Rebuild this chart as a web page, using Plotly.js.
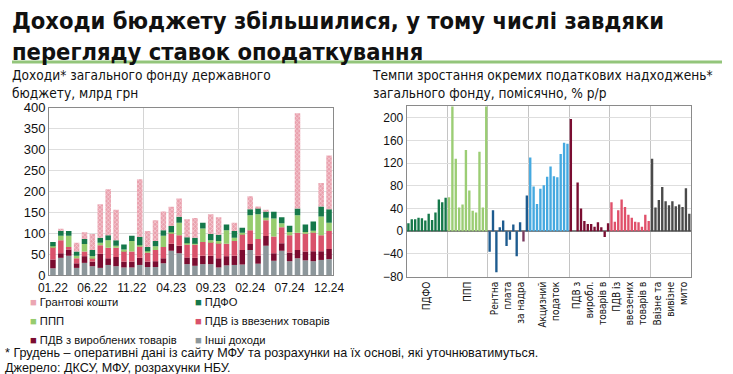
<!DOCTYPE html>
<html><head><meta charset="utf-8">
<script src="https://cdn.plot.ly/plotly-3.0.1.min.js"></script>
<style>html,body{margin:0;padding:0;background:#fff}#chart{width:733px;height:374px}</style>
</head><body><div id="chart"></div>
<script>
// ---------- Left chart: revenues of the general fund, UAH bn ----------
const months = ['01.22','02.22','03.22','04.22','05.22','06.22','07.22','08.22','09.22','10.22','11.22','12.22',
                '01.23','02.23','03.23','04.23','05.23','06.23','07.23','08.23','09.23','10.23','11.23','12.23',
                '01.24','02.24','03.24','04.24','05.24','06.24','07.24','08.24','09.24','10.24','11.24','12.24'];
const monthTicks = ['01.22','06.22','11.22','04.23','09.23','02.24','07.24','12.24'];
const otherIncome = [16,41,46,17,29,21,17,24,21,18,18,24,19,19,28,58,52,26,22,26,26,18,23,24,25,60,27,70,34,58,33,40,35,33,36,38];
const vatDomestic = [21,11,15,11,16,11,34,16,22,14,14,17,13,14,12,17,18,16,19,20,20,22,22,22,35,14,19,23,18,18,21,20,21,24,21,24];
const vatImported = [30,31,6,12,11,9,20,25,22,26,24,28,22,27,27,26,25,31,32,33,33,37,30,35,38,33,40,38,40,38,41,41,43,45,38,43];
const cit         = [2,11,27,6,18,4,6,18,5,3,25,2,3,9,27,1,30,3,2,32,4,4,32,8,3,36,59,6,43,10,8,42,4,4,45,20];
const pit         = [10,12,11,10,12,15,12,12,13,12,13,20,10,12,13,15,14,14,14,14,15,15,14,16,12,14,15,15,16,14,15,16,18,22,24,32];
const grants      = [0,3,0,21,16,38,80,110,73,0,0,138,38,50,45,46,44,43,47,0,47,42,0,20,0,31,4,3,0,0,0,228,0,0,56,129];
// legend order (row by row, two columns)
const legendOrder = ['Грантові кошти','ПДФО','ППП','ПДВ із ввезених товарів','ПДВ з вироблених товарів','Інші доходи'];

// ---------- Right chart: growth rates, % y/y ----------
const groupLabels = ['ПДФО','ППП','Рентна<br>плата<br>за надра','Акцизний<br>податок','ПДВ з<br>виробл.<br>товарів в','ПДВ із<br>ввезених<br>товарів в','Ввізне та<br>вивізне<br>мито'];
const pitGrowth      = [14,21,21,24,23,19,31,20,33,56,51,59];
const citGrowth      = [60,260,128,42,47,143,72,36,33,140,42,240];
const rentGrowth     = [-36,37,-72,7,19,-26,-15,12,-44,16,-18,63];
const exciseGrowth   = [130,79,48,75,81,96,114,97,95,136,156,154];
const vatDomGrowth   = [198,0,86,40,18,13,13,8,16,7,-10,14];
const vatImpGrowth   = [51,17,37,56,43,29,24,17,16,8,29,18];
const dutyGrowth     = [128,42,55,78,53,46,53,44,47,43,76,31];

const NARROW = '"Liberation Sans Narrow","Arial Narrow","DejaVu Sans Condensed",sans-serif';
const ARIAL = '"Liberation Sans",Arial,sans-serif';
const W = 733, H = 374;
const px = v => v / W, py = v => 1 - v / H;

const seriesColor = {
  'Інші доходи': '#8d979b', 'ПДВ з вироблених товарів': '#7b0c30', 'ПДВ із ввезених товарів': '#d9526b',
  'ППП': '#96cc6e', 'ПДФО': '#15784a', 'Грантові кошти': '#eba6b2'
};
const idx = months.map((m, i) => i);
function stack(name, y, extra) {
  return Object.assign({
    type: 'bar', name, x: idx, y, xaxis: 'x', yaxis: 'y', showlegend: false,
    text: months, hovertemplate: '%{text}: %{y}<extra>' + name + '</extra>', textposition: 'none',
    marker: { color: seriesColor[name], line: { width: 0 } }
  }, extra || {});
}
const traces = [
  stack('Інші доходи', otherIncome),
  stack('ПДВ з вироблених товарів', vatDomestic),
  stack('ПДВ із ввезених товарів', vatImported),
  stack('ППП', cit),
  stack('ПДФО', pit),
  stack('Грантові кошти', grants, {
    marker: { color: seriesColor['Грантові кошти'], line: { width: 0 },
      pattern: { shape: 'x', fgcolor: '#f8d7dd', bgcolor: '#e9a0ad', size: 3, solidity: 0.35 } } })
];

const groups = [
  [pitGrowth, '#15784a'], [citGrowth, '#9bcd74'], [rentGrowth, '#1d5b8f'], [exciseGrowth, '#45a9e0'],
  [vatDomGrowth, '#7a0d31'], [vatImpGrowth, '#e0506a'], [dutyGrowth, '#4a4a4a']
];
groups.forEach(([vals, color], g) => {
  const colors = vals.map((v, i) => (g === 2 && i === 10) ? '#7b3a5f' : color);
  traces.push({
    type: 'bar', x: vals.map((v, i) => g * 12 + i), y: vals, xaxis: 'x2', yaxis: 'y2',
    name: groupLabels[g].replace(/<br>/g, ' '), showlegend: false,
    marker: { color: colors, line: { width: 0 } }
  });
});

const annotations = [
  { text: '<b>Доходи бюджету збільшилися, у тому числі завдяки<br>перегляду ставок оподаткування</b>',
    x: px(10), y: py(5), xref: 'paper', yref: 'paper', xanchor: 'left', yanchor: 'top', align: 'left', showarrow: false,
    font: { family: NARROW, size: 23.5, color: '#111' } },
  { text: 'Доходи* загального фонду державного<br>бюджету, млрд грн',
    x: px(10), y: py(64.5), xref: 'paper', yref: 'paper', xanchor: 'left', yanchor: 'top', align: 'left', showarrow: false,
    font: { family: NARROW, size: 13.6, color: '#111' } },
  { text: 'Темпи зростання окремих податкових надходжень*<br>загального фонду, помісячно, % р/р',
    x: px(370), y: py(64.5), xref: 'paper', yref: 'paper', xanchor: 'left', yanchor: 'top', align: 'left', showarrow: false,
    font: { family: NARROW, size: 13.6, color: '#111' } },
  { text: '* Грудень – оперативні дані із сайту МФУ та розрахунки на їх основі, які уточнюватимуться.',
    x: px(3), y: py(353), xref: 'paper', yref: 'paper', xanchor: 'left', yanchor: 'middle', showarrow: false,
    font: { family: ARIAL, size: 12.6, color: '#111' } },
  { text: 'Джерело: ДКСУ, МФУ, розрахунки НБУ.',
    x: px(3), y: py(368), xref: 'paper', yref: 'paper', xanchor: 'left', yanchor: 'middle', showarrow: false,
    font: { family: ARIAL, size: 12.6, color: '#111' } }
];
// legend entries as text with coloured squares, two columns
legendOrder.forEach((name, k) => {
  const col = k % 2, row = Math.floor(k / 2);
  annotations.push({
    text: '<span style="color:' + seriesColor[name] + '">■</span> ' + name,
    x: px(28 + col * 165), y: py(302 + row * 19), xref: 'paper', yref: 'paper',
    xanchor: 'left', yanchor: 'middle', showarrow: false,
    font: { family: ARIAL, size: 11.2, color: '#111' }
  });
});

const axFont = { family: ARIAL, size: 12, color: '#111' };
const layout = {
  width: W, height: H, margin: { l: 0, r: 0, t: 0, b: 0, autoexpand: false },
  paper_bgcolor: '#fff', plot_bgcolor: '#fff', barmode: 'relative', bargap: 0.3,
  showlegend: false, hovermode: 'closest',
  xaxis: { domain: [px(49), px(333)], range: [-0.5, 35.5], tickmode: 'array',
    tickvals: monthTicks.map(m => months.indexOf(m)), ticktext: monthTicks,
    showgrid: false, zeroline: false, ticks: '', tickfont: axFont, ticklabelstandoff: 2,
    showline: true, mirror: true, linecolor: '#8a8a8a', linewidth: 1,
    minor: { tickmode: 'linear', tick0: -0.5, dtick: 12, showgrid: true, gridcolor: '#d4d4d4', gridwidth: 1, ticks: '' } },
  yaxis: { domain: [py(275), py(107.7)], range: [0, 400], dtick: 50, tickfont: { family: ARIAL, size: 13, color: '#111' },
    gridcolor: '#dedede', zeroline: false, ticks: '', showline: true, mirror: true, linecolor: '#8a8a8a' },
  xaxis2: { anchor: 'y2', domain: [px(406.7), px(691)], range: [-0.5, 83.5], tickmode: 'array',
    tickvals: groupLabels.map((l, g) => g * 12 + 5.5), ticktext: groupLabels, tickangle: -90,
    tickfont: { family: NARROW, size: 10, color: '#111' },
    showgrid: false, zeroline: false, ticks: '', showline: true, mirror: true, linecolor: '#8a8a8a',
    minor: { tickmode: 'linear', tick0: -0.5, dtick: 12, showgrid: true, gridcolor: '#c4c4c4', gridwidth: 1, ticks: '' } },
  yaxis2: { anchor: 'x2', domain: [py(276.7), py(106.4)], range: [-80, 220], tick0: -80, dtick: 40,
    tickfont: axFont, gridcolor: '#dedede', zeroline: true, zerolinecolor: '#7f7f7f', zerolinewidth: 1.5,
    ticks: '', showline: true, mirror: true, linecolor: '#8a8a8a' },
  shapes: [
    { type: 'line', xref: 'paper', yref: 'paper', x0: px(12), x1: px(722), y0: py(62), y1: py(62), line: { color: '#93c57b', width: 3 } }
  ],
  annotations
};
Plotly.newPlot('chart', traces, layout, { displayModeBar: false });
</script>
</body></html>
